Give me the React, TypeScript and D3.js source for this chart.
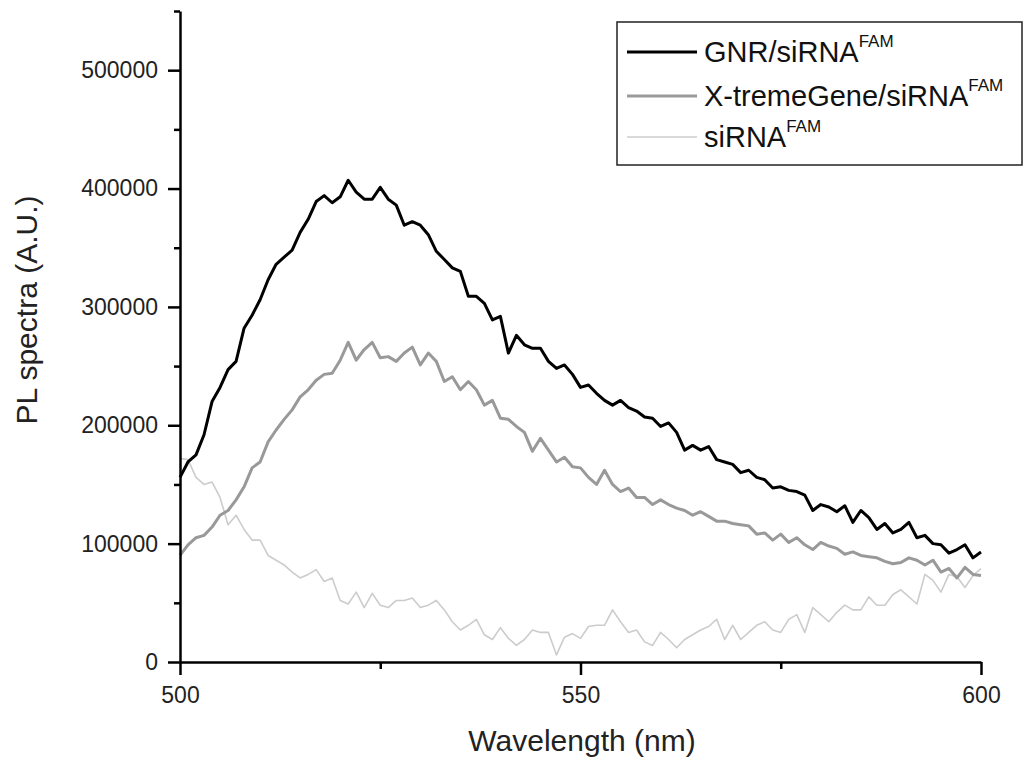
import React, { useEffect, useRef } from 'react';
import * as d3 from 'd3';

// wavelength grid (nm), one sample per nm
const wavelengths: number[] = d3.range(500, 601);

const gnrSiRNA: number[] = [
  156000, 169000, 175000, 192000, 220000, 232000, 247000, 254000, 282000, 293000,
  306000, 323000, 336000, 342000, 348000, 363000, 374000, 389000, 394000, 388000,
  393000, 407000, 397000, 391000, 391000, 401000, 391000, 386000, 369000, 372000,
  369000, 361000, 347000, 340000, 333000, 330000, 309000, 309000, 303000, 289000,
  292000, 261000, 276000, 268000, 265000, 265000, 254000, 248000, 251000, 243000,
  232000, 234000, 227000, 221000, 217000, 221000, 215000, 212000, 207000, 206000,
  199000, 202000, 194000, 179000, 183000, 179000, 182000, 171000, 169000, 167000,
  160000, 162000, 156000, 154000, 147000, 148000, 145000, 144000, 141000, 128000,
  133000, 131000, 127000, 132000, 118000, 128000, 122000, 112000, 117000, 109000,
  112000, 118000, 105000, 107000, 100000, 99000, 92000, 95000, 99000, 88000,
  93000,
];

const xtremeSiRNA: number[] = [
  90000, 99000, 105000, 107000, 114000, 124000, 128000, 137000, 148000, 164000,
  169000, 186000, 196000, 205000, 213000, 224000, 230000, 238000, 243000, 244000,
  255000, 270000, 255000, 264000, 270000, 257000, 258000, 254000, 261000, 266000,
  251000, 261000, 254000, 237000, 241000, 230000, 237000, 230000, 217000, 221000,
  206000, 205000, 199000, 194000, 178000, 189000, 179000, 169000, 173000, 165000,
  164000, 156000, 150000, 162000, 150000, 144000, 147000, 139000, 139000, 133000,
  137000, 133000, 130000, 128000, 124000, 127000, 123000, 119000, 119000, 117000,
  116000, 115000, 108000, 109000, 103000, 108000, 101000, 105000, 99000, 95000,
  101000, 98000, 96000, 91000, 93000, 90000, 89000, 88000, 85000, 83000,
  84000, 88000, 86000, 82000, 86000, 76000, 79000, 71000, 80000, 74000,
  73000,
];

const siRNA: number[] = [
  172000, 171000, 156000, 150000, 152000, 139000, 116000, 124000, 112000, 103000,
  103000, 90000, 86000, 82000, 76000, 71000, 74000, 78000, 68000, 71000,
  52000, 49000, 59000, 46000, 58000, 48000, 46000, 52000, 52000, 54000,
  46000, 48000, 52000, 44000, 34000, 27000, 31000, 36000, 23000, 19000,
  29000, 20000, 14000, 19000, 27000, 25000, 25000, 6000, 21000, 24000,
  20000, 30000, 31000, 31000, 44000, 34000, 25000, 27000, 17000, 14000,
  25000, 19000, 12000, 19000, 23000, 27000, 30000, 36000, 19000, 31000,
  19000, 25000, 31000, 34000, 27000, 25000, 36000, 40000, 25000, 46000,
  40000, 34000, 42000, 48000, 44000, 44000, 55000, 48000, 48000, 57000,
  61000, 55000, 49000, 74000, 69000, 59000, 74000, 72000, 63000, 73000,
  79000,
];

const yMajorTicks: number[] = [0, 100000, 200000, 300000, 400000, 500000];
const yMinorTicks: number[] = [50000, 150000, 250000, 350000, 450000, 550000];
const xMajorTicks: number[] = [500, 550, 600];
const xMinorTicks: number[] = [525, 575];

const seriesList = [
  { name: 'GNR/siRNA', values: gnrSiRNA, color: '#000000', width: 3 },
  { name: 'X-tremeGene/siRNA', values: xtremeSiRNA, color: '#999999', width: 3 },
  { name: 'siRNA', values: siRNA, color: '#cccccc', width: 1.6 },
];

const FONT = "'Liberation Sans', Arial, Helvetica, sans-serif";

const App = () => {
  const svgRef = useRef<SVGSVGElement>(null);

  useEffect(() => {
    document.body.style.margin = '0';
    const svg = d3.select(svgRef.current);
    svg.selectAll('*').remove();

    const x = d3.scaleLinear().domain([500, 600]).range([180, 981]);
    const y = d3.scaleLinear().domain([0, 550000]).range([662, 11]);

    // spectra
    const line = d3.line<number>()
      .x((_, i) => x(wavelengths[i]))
      .y(d => y(d));

    seriesList.slice().reverse().forEach(s => {
      svg.append('path')
        .datum(s.values)
        .attr('d', line)
        .attr('fill', 'none')
        .attr('stroke', s.color)
        .attr('stroke-width', s.width)
        .attr('stroke-linejoin', 'round');
    });

    // y axis
    const yAxis = svg.append('g').attr('transform', 'translate(180,0)');
    yAxis.call(d3.axisLeft(y).tickValues(yMajorTicks).tickSize(12).tickSizeOuter(0).tickPadding(10)
      .tickFormat(d3.format('d')));
    svg.append('g').attr('transform', 'translate(180,0)')
      .call(d3.axisLeft(y).tickValues(yMinorTicks).tickSize(6).tickSizeOuter(0).tickFormat(() => ''))
      .select('.domain').remove();

    // x axis
    const xAxis = svg.append('g').attr('transform', 'translate(0,662)');
    xAxis.call(d3.axisBottom(x).tickValues(xMajorTicks).tickSize(13).tickSizeOuter(0).tickPadding(12)
      .tickFormat(d3.format('d')));
    svg.append('g').attr('transform', 'translate(0,662)')
      .call(d3.axisBottom(x).tickValues(xMinorTicks).tickSize(7).tickSizeOuter(0).tickFormat(() => ''))
      .select('.domain').remove();

    svg.selectAll('.domain, .tick line')
      .attr('stroke', '#000')
      .attr('stroke-width', 2.5);
    svg.selectAll('.tick text')
      .attr('font-family', FONT)
      .attr('font-size', 23)
      .attr('fill', '#222');

    // axis titles
    svg.append('text')
      .attr('x', 582)
      .attr('y', 751)
      .attr('text-anchor', 'middle')
      .attr('font-family', FONT)
      .attr('font-size', 30)
      .attr('fill', '#222')
      .text('Wavelength (nm)');

    svg.append('text')
      .attr('transform', 'translate(37,310) rotate(-90)')
      .attr('text-anchor', 'middle')
      .attr('font-family', FONT)
      .attr('font-size', 30)
      .attr('fill', '#222')
      .text('PL spectra (A.U.)');

    // legend
    const legend = svg.append('g');
    legend.append('rect')
      .attr('x', 617)
      .attr('y', 22)
      .attr('width', 405)
      .attr('height', 143)
      .attr('fill', '#fff')
      .attr('stroke', '#222')
      .attr('stroke-width', 1.5);

    const rowY = [52, 96, 137];
    seriesList.forEach((s, i) => {
      legend.append('line')
        .attr('x1', 627).attr('x2', 697)
        .attr('y1', rowY[i]).attr('y2', rowY[i])
        .attr('stroke', s.color)
        .attr('stroke-width', s.width);
      const t = legend.append('text')
        .attr('x', 704)
        .attr('y', rowY[i] + 10)
        .attr('font-family', FONT)
        .attr('font-size', 29)
        .attr('fill', '#111');
      t.append('tspan').text(s.name);
      t.append('tspan').attr('dy', -15).attr('font-size', 17).text('FAM');
    });
  }, []);

  return (
    <svg ref={svgRef} width={1024} height={760}
      style={{ display: 'block', background: '#fff' }} />
  );
};

export default App;
